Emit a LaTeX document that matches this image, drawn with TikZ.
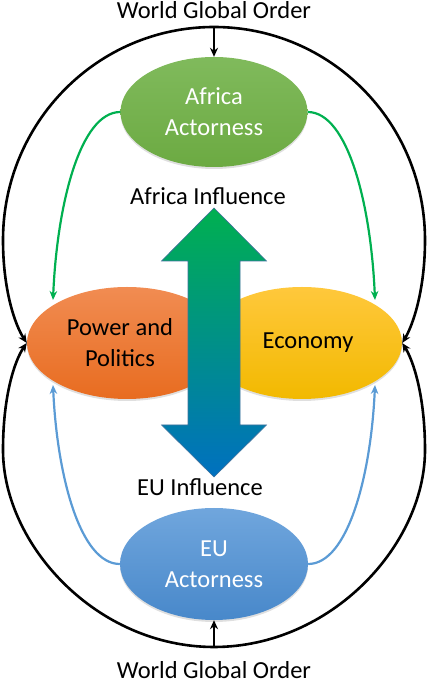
\documentclass[tikz,border=0pt]{standalone}
\usepackage{xcolor,tikz,fontspec}
\setmainfont{Carlito}
\usetikzlibrary{arrows.meta,positioning,calc,shapes.geometric,shadows}
\definecolor{afgreen}{RGB}{108,170,66}
\definecolor{afgreenlt}{RGB}{128,186,92}
\definecolor{pporange}{RGB}{232,108,32}
\definecolor{pporangelt}{RGB}{241,140,82}
\definecolor{ecyellow}{RGB}{242,185,0}
\definecolor{ecyellowlt}{RGB}{255,200,60}
\definecolor{eublue}{RGB}{72,136,202}
\definecolor{eubluelt}{RGB}{112,166,221}
\definecolor{lnkgreen}{RGB}{0,176,80}
\definecolor{lnkblue}{RGB}{91,155,213}
\definecolor{infgreen}{RGB}{0,176,80}
\definecolor{infblue}{RGB}{0,112,192}
\definecolor{infedge}{RGB}{65,113,156}
\tikzset{
  blk/.style={-{Stealth[length=9pt,width=8pt]},line width=2.6pt,draw=black},
  grn/.style={-{Stealth[length=9pt,width=7.5pt]},line width=2.2pt,draw=lnkgreen},
  blu/.style={-{Stealth[length=9pt,width=7.5pt]},line width=2.2pt,draw=lnkblue},
  oval/.style={ellipse,inner sep=0pt,align=center,font=\fontsize{24.5}{31}\selectfont,
    drop shadow={opacity=0.25,shadow xshift=0pt,shadow yshift=-2pt}},
  ttl/.style={font=\fontsize{24.5}{30}\selectfont,anchor=base,inner sep=0pt}
}
\begin{document}
\begin{tikzpicture}[x=1pt,y=1pt]
  \useasboundingbox (0,0) rectangle (428,685);
  % actors and fields
  \node[oval,minimum width=187pt,minimum height=110pt,top color=afgreenlt,bottom color=afgreen,text=white] (AA) at (214,573) {Africa\\Actorness};
  \node[oval,minimum width=200pt,minimum height=112pt,top color=pporangelt,bottom color=pporange] (PP) at (127,342) {};
  \node[oval,minimum width=200pt,minimum height=112pt,top color=ecyellowlt,bottom color=ecyellow] (EC) at (302,342) {};
  \node[oval,minimum width=188pt,minimum height=112pt,top color=eubluelt,bottom color=eublue,text=white] (EU) at (214,121) {EU\\Actorness};
  \node[align=center,font=\fontsize{24.5}{31}\selectfont] (PPt) at (120,342) {Power and\\Politics};
  \node[font=\fontsize{24.5}{31}\selectfont] (ECt) at (308,342) {Economy};
  % influence arrow
  \shade[top color=infgreen,bottom color=infblue,draw=infedge,line width=0.6pt]
    (214,477) -- (266.5,424) -- (240,424) -- (240,260) -- (266.5,260) -- (214,208)
    -- (161.5,260) -- (188,260) -- (188,424) -- (161.5,424) -- cycle;
  \node[ttl] (AI) at (208,480) {Africa Influence};
  \node[ttl] (EI) at (200,189) {EU Influence};
  % world order
  \node[ttl] (WT) at (214,666) {World Global Order};
  \node[ttl] (WB) at (214,6) {World Global Order};
  \coordinate (tc) at (214,658);
  \coordinate (bc) at (214,38);
  \draw[blk] (tc) -- (AA.north);
  \draw[blk] (bc) -- (EU.south);
  \draw[blk] (tc) .. controls (97,658) and (3,562) .. (3,445) .. controls (3,395) and (15,360) .. (PP.west);
  \draw[blk] (tc) .. controls (331,658) and (425,562) .. (425,445) .. controls (425,395) and (413,360) .. (EC.east);
  \draw[blk] (bc) .. controls (97,38) and (3,140) .. (3,235) .. controls (3,290) and (15,325) .. (PP.west);
  \draw[blk] (bc) .. controls (331,38) and (425,140) .. (425,235) .. controls (425,290) and (413,325) .. (EC.east);
  % actor links
  \draw[grn] (AA.west) .. controls (80,573) and (57,480) .. (53,385);
  \draw[grn] (AA.east) .. controls (348,573) and (371,480) .. (375,385);
  \draw[blu] (EU.west) .. controls (80,121) and (57,210) .. (53,300);
  \draw[blu] (EU.east) .. controls (348,121) and (371,210) .. (375,300);
\end{tikzpicture}
\end{document}
